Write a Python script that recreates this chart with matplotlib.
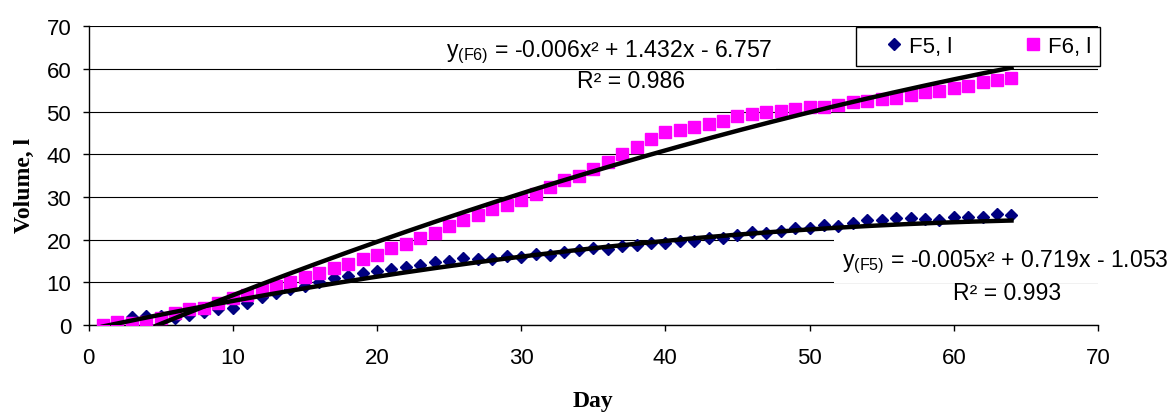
import matplotlib
matplotlib.use('Agg')
import matplotlib.pyplot as plt
import numpy as np

plt.rcParams['font.family'] = ['Liberation Sans', 'DejaVu Sans']
plt.rcParams['mathtext.fontset'] = 'custom'
plt.rcParams['mathtext.rm'] = 'Liberation Sans'

# days and measured volumes (litres)
days = list(range(1, 65))
f5_volume = [0.0, 0.5, 1.8, 2.2, 2.0, 1.6, 2.4, 3.1, 3.7, 4.1,
             5.2, 6.5, 7.6, 8.4, 9.2, 10.0, 10.9, 11.6, 12.1, 12.6,
             13.1, 13.7, 14.1, 14.7, 15.1, 15.6, 15.4, 15.5, 16.1, 16.0,
             16.7, 16.4, 17.0, 17.5, 18.0, 17.8, 18.6, 18.8, 19.1, 19.1,
             19.7, 19.7, 20.5, 20.5, 21.2, 21.8, 21.5, 22.1, 22.7, 22.7,
             23.5, 23.3, 23.9, 24.6, 24.5, 25.0, 25.0, 24.8, 24.7, 25.2,
             25.2, 25.2, 26.0, 25.8]
f6_volume = [0.0, 0.6, 0.5, 0.8, 1.6, 2.7, 3.7, 4.1, 5.2, 6.3,
             7.1, 8.3, 9.1, 10.1, 11.3, 12.3, 13.3, 14.4, 15.5, 16.5,
             18.0, 19.0, 20.5, 21.5, 23.1, 24.7, 25.8, 27.2, 28.2, 29.3,
             30.7, 32.4, 34.0, 35.0, 36.5, 38.1, 40.0, 41.6, 43.6, 45.3,
             45.7, 46.3, 47.2, 47.8, 48.9, 49.4, 49.8, 50.2, 50.6, 51.1,
             51.1, 51.5, 52.2, 52.4, 52.9, 53.2, 53.9, 54.5, 54.9, 55.5,
             56.0, 57.0, 57.4, 58.0]

# polynomial trend lines as printed on the chart
f5_coef = [-0.005, 0.719, -1.053]
f6_coef = [-0.006, 1.432, -6.757]
f5_r2 = 0.993
f6_r2 = 0.986

fig = plt.figure(figsize=(11.74, 4.14), dpi=100)
ax = fig.add_axes([88.5 / 1174, 1 - 326 / 414, (1098 - 88.5) / 1174, (326 - 27.3) / 414])

ax.plot(days, f5_volume, linestyle='none', marker='D', markersize=6,
        color='#000080', label='F5, l', zorder=3)
ax.plot(days, f6_volume, linestyle='none', marker='s', markersize=8.4,
        color='#FF00FF', label='F6, l', zorder=3)

xt = np.linspace(days[0], days[-1], 300)
ax.plot(xt, np.polyval(f5_coef, xt), color='black', lw=3.2, zorder=4)
ax.plot(xt, np.polyval(f6_coef, xt), color='black', lw=3.2, zorder=4)

ax.set_xlim(0, 70)
ax.set_ylim(0, 70)
ax.set_xticks(range(0, 71, 10))
ax.set_yticks(range(0, 71, 10))
ax.tick_params(direction='out', length=4.5, width=1, labelsize=16)
ax.tick_params(axis='x', pad=11)
ax.tick_params(axis='y', pad=8)
ax.grid(axis='y', color='black', lw=0.8, zorder=1)
ax.set_axisbelow(True)
for s in ['top', 'right']:
    ax.spines[s].set_visible(False)
for s in ['left', 'bottom']:
    ax.spines[s].set_linewidth(1)

ax.set_xlabel('Day', family='Liberation Serif', fontweight='bold', fontsize=17)
ax.xaxis.set_label_coords(0.5, -0.218)
ax.set_ylabel('Volume, l', family='Liberation Serif', fontweight='bold', fontsize=17)
ax.yaxis.set_label_coords(-0.053, 0.472)

def eq_text(coef, name):
    a, b, c = coef
    sign = '-' if c < 0 else '+'
    return (r'y$_{\mathregular{(' + name + r')}}$' +
            f' = {a:.3f}x\u00b2 + {b:.3f}x {sign} {abs(c):.3f}')

ax.text(36.07, 63.0, eq_text(f6_coef, 'F6'), ha='center', va='baseline', fontsize=16.6,
        bbox=dict(facecolor='white', edgecolor='none', pad=3), zorder=5)
ax.text(37.6, 55.85, f'R\u00b2 = {f6_r2:.3f}', ha='center', va='baseline', fontsize=16.6, zorder=5)
ax.text(63.6, 13.9, eq_text(f5_coef, 'F5'), ha='center', va='baseline', fontsize=16.6,
        bbox=dict(facecolor='white', edgecolor='none', pad=6), zorder=5)
ax.text(63.7, 6.1, f'R\u00b2 = {f5_r2:.3f}', ha='center', va='baseline', fontsize=16.6, zorder=5)

leg = ax.legend(loc='upper left', bbox_to_anchor=(856 / 1174, 1 - 28 / 414),
                bbox_transform=fig.transFigure, ncol=2, frameon=True, fancybox=False,
                framealpha=1, edgecolor='black', fontsize=16, numpoints=1,
                borderpad=0.4, handlelength=2.6, handletextpad=-0.6,
                columnspacing=2.3, borderaxespad=0)
leg.get_frame().set_linewidth(1)

fig.savefig('out.png', dpi=100)
